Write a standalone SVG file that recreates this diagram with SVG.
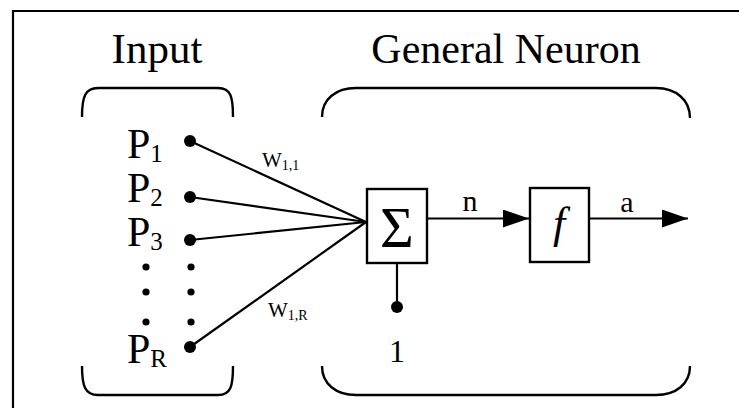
<svg xmlns="http://www.w3.org/2000/svg" width="739" height="408" viewBox="0 0 739 408">
<style>
.t{font-family:"Liberation Serif","Times New Roman",serif;fill:#000}
.ln{stroke:#000;stroke-width:2.2;fill:none}
.br{stroke:#000;stroke-width:2.4;fill:none}
.box{stroke:#000;stroke-width:2.4;fill:#fff}
.dot{fill:#000}
</style>
<defs>
<marker id="arr" viewBox="0 0 26 18" refX="26" refY="9" markerWidth="26" markerHeight="18" markerUnits="userSpaceOnUse" orient="auto">
<path d="M0,0 L26,9 L0,18 Z" fill="#000"/>
</marker>
</defs>
<rect width="739" height="408" fill="#fff"/>
<g id="frame">
<path class="ln" d="M13,408 L13,11 L739,11" stroke-width="2.4"/>
</g>
<g id="titles">
<text class="t" x="157" y="63" font-size="43" text-anchor="middle">Input</text>
<text class="t" x="506" y="63" font-size="42" text-anchor="middle">General Neuron</text>
</g>
<g id="brackets">
<path class="br" d="M82,117 C82,97 85,88 98,88 L218,88 C231,88 233,97 233,117"/>
<path class="br" d="M82,366 C82,386 85,395 98,395 L218,395 C231,395 233,386 233,366"/>
<path class="br" d="M322,117 C322,99 336,88 356,88 L656,88 C676,88 690,100 690,118"/>
<path class="br" d="M322,366 C322,384 336,395 356,395 L656,395 C676,395 690,384 690,366"/>
</g>
<g id="connectors">
<line class="ln" x1="190" y1="141" x2="366" y2="222"/>
<line class="ln" x1="190" y1="197" x2="366" y2="222"/>
<line class="ln" x1="190" y1="240" x2="366" y2="222"/>
<line class="ln" x1="190" y1="347" x2="366" y2="222"/>
<line class="ln" x1="397" y1="263" x2="397" y2="307"/>
<line class="ln" x1="427" y1="218.5" x2="529" y2="218.5" marker-end="url(#arr)"/>
<line class="ln" x1="589" y1="218.5" x2="688" y2="218.5" marker-end="url(#arr)"/>
</g>
<g id="inputs">
<text class="t" x="127" y="158" font-size="42">P<tspan font-size="25" dy="4">1</tspan></text>
<text class="t" x="127" y="202" font-size="42">P<tspan font-size="25" dy="4">2</tspan></text>
<text class="t" x="127" y="246" font-size="42">P<tspan font-size="25" dy="4">3</tspan></text>
<text class="t" x="127" y="363" font-size="42">P<tspan font-size="25" dy="4">R</tspan></text>
<circle class="dot" cx="190" cy="141" r="6"/>
<circle class="dot" cx="190" cy="197" r="6"/>
<circle class="dot" cx="190" cy="240" r="6"/>
<circle class="dot" cx="190" cy="347" r="6"/>
<circle class="dot" cx="146" cy="267" r="3.6"/>
<circle class="dot" cx="146" cy="292" r="3.6"/>
<circle class="dot" cx="146" cy="322" r="3.6"/>
<circle class="dot" cx="191" cy="267" r="3.6"/>
<circle class="dot" cx="191" cy="292" r="3.6"/>
<circle class="dot" cx="191" cy="322" r="3.6"/>
</g>
<g id="weights">
<text class="t" x="262" y="167" font-size="21">W<tspan font-size="14" dy="3">1,1</tspan></text>
<text class="t" x="268" y="317" font-size="21">W<tspan font-size="14" dy="3">1,R</tspan></text>
</g>
<g id="sum">
<rect class="box" x="367" y="189" width="60" height="74"/>
<text class="t" x="397" y="247" font-size="58" text-anchor="middle">Σ</text>
</g>
<g id="bias">
<circle class="dot" cx="397" cy="307" r="6"/>
<text class="t" x="397" y="362" font-size="32" text-anchor="middle">1</text>
</g>
<g id="transfer">
<rect class="box" x="530" y="188" width="59" height="74"/>
<text class="t" x="559" y="238" font-size="44" font-style="italic" text-anchor="middle">f</text>
</g>
<g id="signals">
<text class="t" x="470" y="211" font-size="30" text-anchor="middle">n</text>
<text class="t" x="627" y="212" font-size="30" text-anchor="middle">a</text>
</g>
</svg>
